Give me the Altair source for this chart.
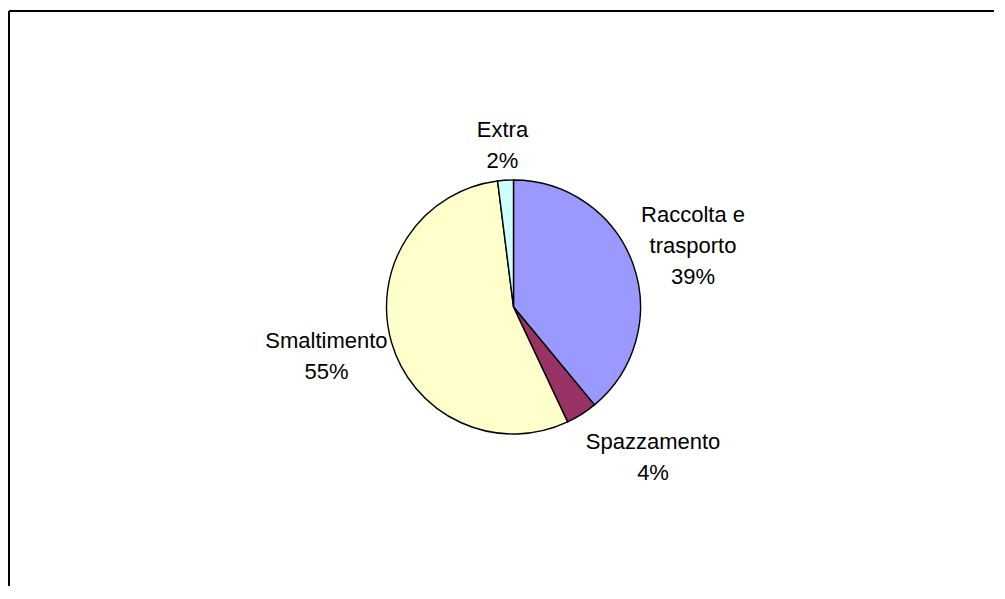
import altair as alt
import pandas as pd

# ---- data ----
categories = ["Raccolta e trasporto", "Spazzamento", "Smaltimento", "Extra"]
label_lines = ["Raccolta e\ntrasporto", "Spazzamento", "Smaltimento", "Extra"]
shares = [39, 4, 55, 2]
colors = ["#9999FF", "#993366", "#FFFFCC", "#CCFFFF"]

df = pd.DataFrame({
    "idx": list(range(len(categories))),
    "category": categories,
    "lines": label_lines,
    "value": shares,
})
total = sum(shares)

W, H = 985, 575
CX, CY = 504.5, 296  # pie centre inside the plot area
R = 127
LH = 31
theta_scale = alt.Scale(domain=[0, total])

base = alt.Chart(df)

pie = base.mark_arc(radius=R, stroke="black", strokeWidth=1.4).encode(
    theta=alt.Theta("value:Q", stack=True, scale=theta_scale),
    color=alt.Color("category:N", scale=alt.Scale(domain=categories, range=colors), legend=None),
    order=alt.Order("idx:Q", sort="ascending"),
    x=alt.value(CX),
    y=alt.value(CY),
)

# label placement (style): offsets from a common polar anchor (block centre)
placement = {
    "Raccolta e trasporto": (47.8, -13.6),
    "Spazzamento": (64.5, 31.8),
    "Smaltimento": (-52.6, 10.4),
    "Extra": (-2.2, -21.8),
}

labels = []
for cat, lines in zip(categories, label_lines):
    dx, dy = placement[cat]
    n_lines = lines.count("\n") + 2
    dy = dy - (n_lines - 1) * LH / 2
    t = base.transform_window(
        cum="sum(value)", sort=[alt.SortField("idx", order="ascending")], frame=[None, 0]
    ).transform_calculate(
        mid="datum.cum - datum.value / 2",
        label="datum.lines + '\\n' + datum.value + '%'",
    ).transform_filter(
        alt.datum.category == cat
    ).mark_text(
        radius=140, dx=dx, dy=dy, align="center", baseline="middle",
        lineBreak="\n", lineHeight=LH, font="Liberation Sans", fontSize=22, color="black",
    ).encode(
        theta=alt.Theta("mid:Q", stack=False, scale=theta_scale),
        text="label:N",
        x=alt.value(CX),
        y=alt.value(CY),
    )
    labels.append(t)

frame_data = alt.Data(values=[{"k": 1}])
top_line = alt.Chart(frame_data).mark_rule(color="black", strokeWidth=2).encode(
    x=alt.value(0), x2=alt.value(W), y=alt.value(0)
)
left_line = alt.Chart(frame_data).mark_rule(color="black", strokeWidth=2).encode(
    x=alt.value(0), y=alt.value(0), y2=alt.value(H)
)

chart = alt.layer(top_line, left_line, pie, *labels).properties(
    width=W, height=H,
    autosize=alt.AutoSizeParams(type="none"),
    padding={"left": 1, "top": 3, "right": 0, "bottom": 0},
    background="white",
).configure_view(stroke=None)

chart.save("out.html", embed_options={"renderer": "svg", "actions": False})
